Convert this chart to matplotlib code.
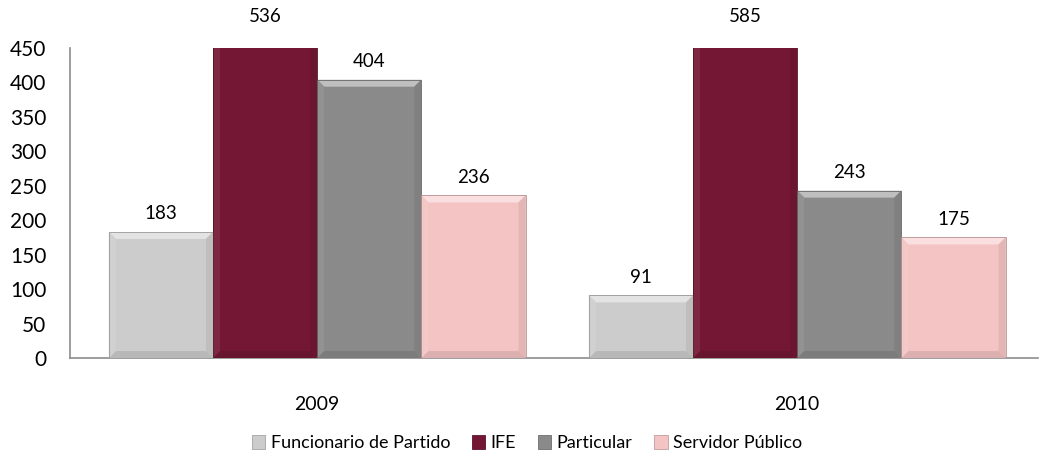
import numpy as np
import matplotlib
matplotlib.use("Agg")
import matplotlib.pyplot as plt
from matplotlib.patches import Polygon, Patch
from matplotlib.colors import to_rgb

years = ["2009", "2010"]
series = ["Funcionario de Partido", "IFE", "Particular", "Servidor Público"]
values = {
    "Funcionario de Partido": [183, 91],
    "IFE": [536, 585],
    "Particular": [404, 243],
    "Servidor Público": [236, 175],
}
colors = ["#cccccc", "#731735", "#8a8a8a", "#f4c4c4"]

plt.rcParams['font.family'] = ['Lato', 'DejaVu Sans']

YMAX = 450


def shade(c, f):
    r = np.array(to_rgb(c))
    if f > 0:
        return tuple(r + (1 - r) * f)
    return tuple(r * (1 + f))


def bevel(ax, x0, x1, y0, y1, color, b=7):
    # bevelled edges drawn in pixel space so they are even on both axes
    tr = ax.transData
    inv = tr.inverted()
    (px0, py0) = tr.transform((x0, y0))
    (px1, py1) = tr.transform((x1, min(y1, YMAX + 40)))
    def poly(pts, c):
        d = inv.transform(pts)
        ax.add_patch(Polygon(d, closed=True, facecolor=c, edgecolor='none', zorder=3))
    poly([(px0, py1), (px1, py1), (px1 - b, py1 - b), (px0 + b, py1 - b)], shade(color, 0.45))
    poly([(px0, py0), (px1, py0), (px1 - b, py0 + b), (px0 + b, py0 + b)], shade(color, -0.1))
    poly([(px0, py0), (px0 + b, py0 + b), (px0 + b, py1 - b), (px0, py1)], shade(color, 0.07))
    poly([(px1, py0), (px1 - b, py0 + b), (px1 - b, py1 - b), (px1, py1)], shade(color, -0.07))
    ax.add_patch(Polygon(inv.transform([(px0, py0), (px1, py0), (px1, py1), (px0, py1)]),
                         closed=True, facecolor='none', edgecolor=shade(color, -0.25),
                         linewidth=0.6, zorder=4))


fig = plt.figure(figsize=(10.54, 4.73), dpi=100)
ax = fig.add_axes([0.0664, 0.243, 0.9186, 0.6555])
ax.set_xlim(-0.515, 1.502)
ax.set_ylim(0, YMAX)

x = np.arange(len(years))
w = 0.217
for i, (name, c) in enumerate(zip(series, colors)):
    pos = x + (i - 1.5) * w
    vals = values[name]
    ax.bar(pos, vals, width=w, color=c, zorder=2)
    for p, v in zip(pos, vals):
        bevel(ax, p - w / 2, p + w / 2, 0, v, c)
        if v > YMAX:
            ax.annotate(str(v), (p, YMAX), xytext=(0, 23), textcoords='offset points',
                        ha='center', va='center', fontsize=13.5, annotation_clip=False)
        else:
            ax.annotate(str(v), (p, v), xytext=(0, 13), textcoords='offset points',
                        ha='center', va='center', fontsize=13.5)

ax.set_yticks(range(0, 451, 50))
ax.set_xticks(x)
ax.set_xticklabels(years)
ax.tick_params(axis='both', length=0)
ax.tick_params(axis='y', labelsize=15, pad=17)
ax.tick_params(axis='x', labelsize=14, pad=27)
for s in ['top', 'right']:
    ax.spines[s].set_visible(False)
for s in ['left', 'bottom']:
    ax.spines[s].set_color('#8c8c8c')
    ax.spines[s].set_linewidth(1.2)

handles = [Patch(facecolor=c, edgecolor=shade(c, -0.2), linewidth=0.6) for c in colors]
fig.legend(handles, series, loc='center', bbox_to_anchor=(0.5, 0.063), ncol=4,
           frameon=False, fontsize=13, handlelength=0.75, handleheight=0.75,
           handletextpad=0.3, columnspacing=1.2)

fig.savefig("out.png", dpi=100)
